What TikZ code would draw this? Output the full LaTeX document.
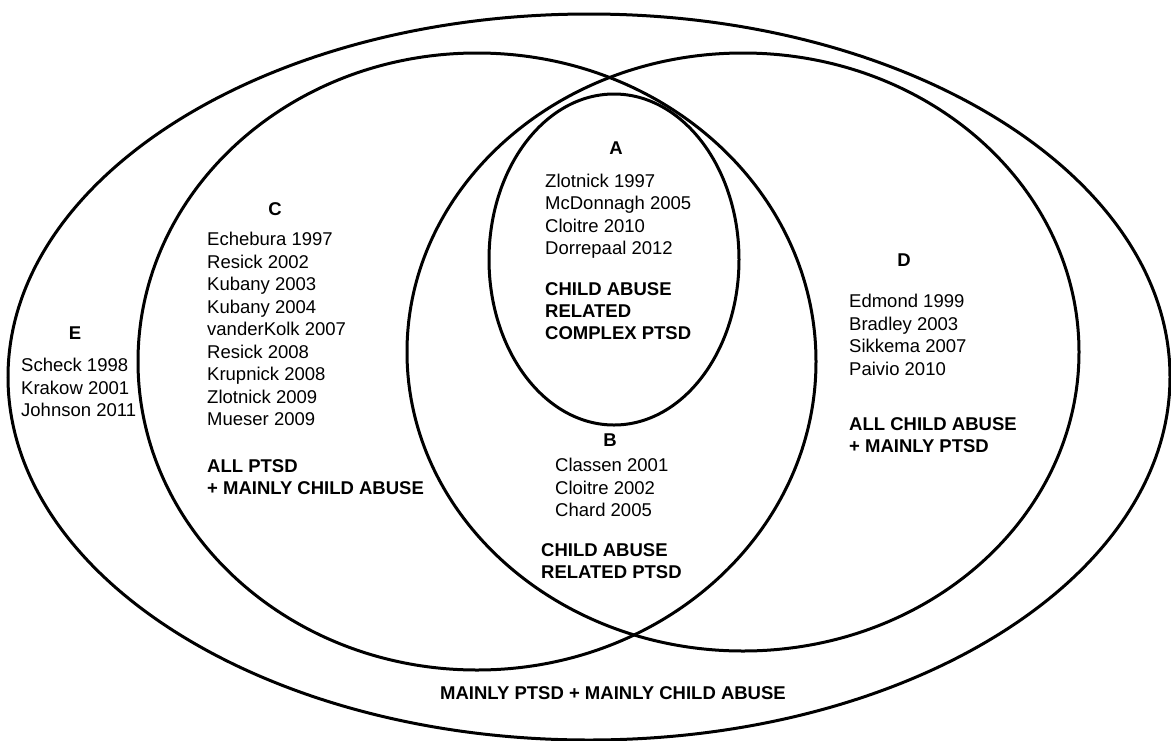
\documentclass[tikz,border=0pt]{standalone}
\usepackage{fontspec}
\setmainfont{Liberation Sans}
\usetikzlibrary{shapes.geometric}
\begin{document}
\begin{tikzpicture}[x=1pt,y=-1pt,
  set/.style={draw=black, line width=3pt, ellipse, inner sep=0pt},
  lst/.style={anchor=west, inner sep=0pt, align=left, font=\fontsize{18.5}{22.5}\selectfont},
  bld/.style={anchor=west, inner sep=0pt, align=left, font=\fontsize{18.5}{22.2}\selectfont\bfseries},
  lbl/.style={inner sep=0pt, font=\fontsize{18.5}{22}\selectfont\bfseries}]
\useasboundingbox (0,0) rectangle (1171,740);
\node[set, minimum width=1162pt, minimum height=726pt] (E) at (589,377) {};
\node[set, minimum width=678pt, minimum height=617pt] (C) at (477,361.5) {};
\node[set, minimum width=672pt, minimum height=598pt] (D) at (743,352) {};
\node[set, minimum width=250pt, minimum height=331pt] (A) at (614,259.5) {};

\node[lbl] (Elbl) at (75,333) {E};
\node[lst] (Elist) at (21,387.5) {Scheck 1998\\Krakow 2001\\Johnson 2011};

\node[lbl] (Clbl) at (275,209) {C};
\node[lst] (Clist) at (207,329) {Echebura 1997\\Resick 2002\\Kubany 2003\\Kubany 2004\\vanderKolk 2007\\Resick 2008\\Krupnick 2008\\Zlotnick 2009\\Mueser 2009};
\node[bld] (Cdesc) at (207,477.5) {ALL PTSD\\+ MAINLY CHILD ABUSE};

\node[lbl] (Albl) at (616,148) {A};
\node[lst] (Alist) at (545,216) {Zlotnick 1997\\McDonnagh 2005\\Cloitre 2010\\Dorrepaal 2012};
\node[bld] (Adesc) at (545,311) {CHILD ABUSE\\RELATED\\COMPLEX PTSD};

\node[lbl] (Dlbl) at (904,260) {D};
\node[lst] (Dlist) at (849,335) {Edmond 1999\\Bradley 2003\\Sikkema 2007\\Paivio 2010};
\node[bld] (Ddesc) at (849,435.5) {ALL CHILD ABUSE\\+ MAINLY PTSD};

\node[lbl] (Blbl) at (610,440) {B};
\node[lst] (Blist) at (555,487.5) {Classen 2001\\Cloitre 2002\\Chard 2005};
\node[bld] (Bdesc) at (541,561) {CHILD ABUSE\\RELATED PTSD};

\node[lbl] (Edesc) at (613,693) {MAINLY PTSD + MAINLY CHILD ABUSE};
\end{tikzpicture}
\end{document}
